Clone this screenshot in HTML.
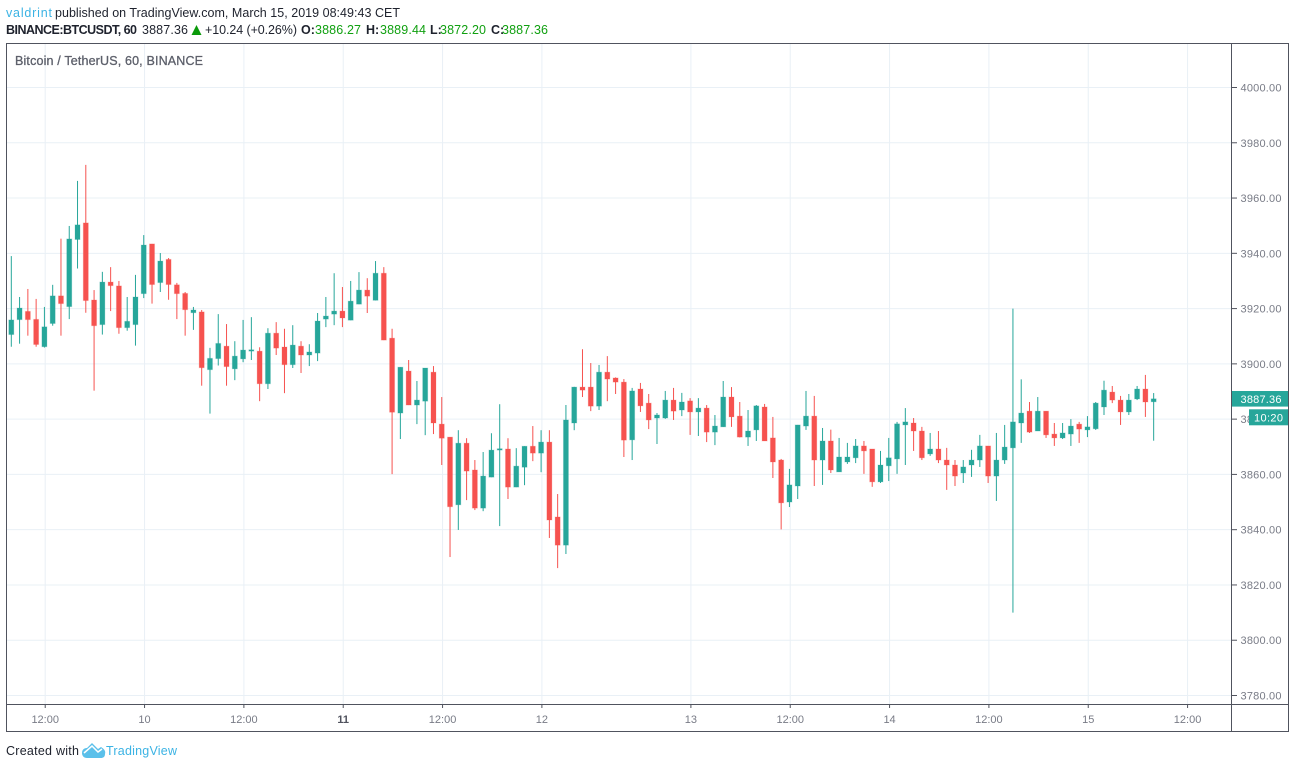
<!DOCTYPE html>
<html lang="en">
<head>
<meta charset="utf-8">
<title>BTCUSDT 60 chart</title>
<style>
html,body{margin:0;padding:0;background:#fff;width:1295px;height:768px;overflow:hidden}
svg{display:block}
text{font-family:"Liberation Sans",sans-serif}
</style>
</head>
<body>
<svg id="chart" xmlns="http://www.w3.org/2000/svg" width="1295" height="768" viewBox="0 0 1295 768">
  <g font-size="12.5" fill="#1e222d">
    <text x="6" y="17" fill="#3bb3e4" textLength="46" lengthAdjust="spacing">valdrint</text>
    <text x="55" y="17" textLength="345" lengthAdjust="spacing">published on TradingView.com, March 15, 2019 08:49:43 CET</text>
    <text x="6" y="34" font-weight="bold" textLength="131" lengthAdjust="spacing">BINANCE:BTCUSDT, 60</text>
    <text x="142" y="34" textLength="46" lengthAdjust="spacing">3887.36</text>
    <polygon points="191.5,35 201.5,35 196.5,25" fill="#0a9a0a"/>
    <text x="205" y="34" textLength="92" lengthAdjust="spacing">+10.24 (+0.26%)</text>
    <text x="301" y="34" font-weight="bold">O:</text>
    <text x="315" y="34" fill="#10a010" textLength="46" lengthAdjust="spacing">3886.27</text>
    <text x="366" y="34" font-weight="bold">H:</text>
    <text x="380" y="34" fill="#10a010" textLength="46" lengthAdjust="spacing">3889.44</text>
    <text x="430" y="34" font-weight="bold">L:</text>
    <text x="440" y="34" fill="#10a010" textLength="46" lengthAdjust="spacing">3872.20</text>
    <text x="491" y="34" font-weight="bold">C:</text>
    <text x="502" y="34" fill="#10a010" textLength="46" lengthAdjust="spacing">3887.36</text>
  </g>

  <g id="grid"></g>
  <g id="candles"></g>
  <g id="axes"></g>

  <g fill="none" stroke="#50535e" stroke-width="1">
    <rect x="6.5" y="43.5" width="1282" height="688"/>
    <line x1="1231.5" y1="43.5" x2="1231.5" y2="731.5"/>
    <line x1="6.5" y1="704.5" x2="1288.5" y2="704.5"/>
  </g>

  <text x="15" y="65" font-size="12.5" fill="#5d606b" stroke="#5d606b" stroke-width="0.3" textLength="188" lengthAdjust="spacing">Bitcoin / TetherUS, 60, BINANCE</text>

  <g>
    <text x="6" y="755" font-size="12.5" fill="#1e222d" textLength="73" lengthAdjust="spacing">Created with</text>
    <path d="M82 753 C82 749 85 748 87 748 L92 743 L98 749 L101 747 C104 749 106 751 105 754 C105 757 103 758 101 758 L87 758 C84 758 82 756 82 753 Z" fill="#5bc0ea"/>
    <path d="M84 753 L92 746 L98 752 L102 749" fill="none" stroke="#fff" stroke-width="1.5"/>
    <text x="106" y="755" font-size="12.5" fill="#3bb3e4" textLength="71" lengthAdjust="spacing">TradingView</text>
  </g>
</svg>

<script>
const opens = [3910.6,3916,3919,3916.1,3906.2,3914.6,3924.6,3920.7,3945,3951,3923.1,3914.2,3929.6,3928.2,3913.1,3914.2,3925.4,3943.4,3929.4,3937.8,
3928.6,3925.5,3918.5,3918.8,3897.9,3901.9,3906.4,3898.2,3901.8,3904.6,3904.6,3892.8,3911.1,3906.1,3899.7,3906.4,3903.2,3903.9,3916.2,3918,
3919.1,3915.8,3921.6,3926.7,3923,3932.8,3909.3,3882.2,3897.4,3885.1,3886.5,3897,3878.2,3873.5,3849,3871.3,3861.6,3847.8,3859,3868.8,
3869.2,3855.4,3862.6,3870.2,3867.7,3871.7,3844.6,3834.4,3878.6,3891.6,3891.6,3884.7,3897,3894.9,3893.4,3872.5,3890.9,3885.8,3880.4,3880.4,
3886.9,3883.3,3886.6,3882.6,3884,3875.3,3877.2,3888,3881.1,3873.5,3876.1,3884.4,3873.2,3865.2,3850,3855.8,3877.5,3881.1,3865.2,3872.1,
3860.9,3864.5,3866,3870.3,3869.2,3857.3,3863.1,3865.6,3877.9,3878.6,3875.7,3867.4,3869.2,3865.2,3863.4,3860.5,3863.4,3865.2,3870.3,3859.4,
3865.2,3869.6,3878.6,3882.9,3875.7,3882.9,3874.6,3873.2,3874.6,3878.2,3876.1,3876.5,3884.4,3889.8,3886.9,3882.6,3887.3,3890.9,3886.27];
const highs = [3939,3924.2,3927.1,3923.5,3920.6,3928.6,3945.3,3949.9,3966.2,3972,3926.7,3933.3,3935,3930,3924.2,3932.2,3946.6,3943.4,3940.1,3938.3,
3929.3,3926,3920.6,3919.5,3905.8,3918,3914.4,3908.2,3915.9,3916.9,3906,3912.9,3915.1,3912.7,3914,3908.2,3907.1,3918.4,3924.2,3932.8,
3927.8,3930,3933.2,3931,3937.2,3935,3912.7,3898.8,3901.4,3893.8,3898.5,3899.2,3888,3873.5,3876,3873.1,3865.2,3868.1,3874.9,3885.4,
3873.1,3869.5,3870.2,3877.5,3876,3876,3852.9,3885.1,3891.7,3905.3,3900.3,3899.6,3902.8,3895.1,3894.5,3891.3,3893.1,3889.1,3882.2,3890.2,
3891.3,3889.5,3887.6,3887.6,3885.1,3881.5,3893.8,3891.6,3886.2,3883.3,3885.1,3885.5,3880.8,3865.6,3862,3877.9,3890.2,3888.4,3876.8,3876.2,
3873.2,3871.4,3872.8,3872.1,3869.2,3868.5,3873.2,3879,3884,3880.4,3877.2,3875,3875.7,3869.6,3865.2,3865.2,3868.9,3874.3,3870.3,3875,
3877.9,3920,3894.4,3886.2,3888,3882.9,3878.6,3878.6,3880,3879,3881.1,3886.2,3893.9,3892,3888.4,3889.1,3892,3896,3889.44];
const lows = [3906.2,3907.3,3910.2,3906.2,3905.9,3913.8,3910.2,3916.2,3934.5,3918.5,3890.3,3910.6,3919.1,3910.9,3912,3906.6,3923.8,3921.8,3926,3923.2,
3916.2,3910.2,3912.3,3892.1,3882,3899.4,3892.1,3894.1,3900.6,3901.4,3886.5,3890.9,3903.2,3889.4,3898.5,3896.7,3899.2,3901,3913.3,3914,
3913.3,3915.8,3921.6,3918.4,3923,3908.6,3860.1,3872.8,3885.1,3878.2,3874.2,3874.6,3863.4,3830.1,3839.9,3850.7,3847.1,3846.7,3859,3841.3,
3851.1,3855.4,3856.1,3864.8,3860.8,3837,3826.1,3831.2,3876,3888,3882.9,3883.3,3886.5,3889.1,3866.3,3865.2,3882.6,3876.4,3871,3880.1,
3879.7,3881.1,3874.3,3873.9,3871.7,3870.6,3877.2,3877.2,3873.4,3870.3,3872.1,3872.1,3858.7,3840.1,3848.2,3851.1,3876.1,3855.8,3856.2,3860.5,
3860.9,3863.8,3864.1,3860.2,3855.5,3856.9,3857.6,3860.2,3863.4,3868.5,3865.2,3866.7,3864.1,3854.4,3855.8,3856.9,3859.1,3862.7,3856.9,3850.4,
3863.8,3810,3871.4,3875,3875.7,3873.2,3870.3,3872.8,3870.3,3871.4,3873.5,3876.1,3881.5,3885.8,3877.9,3881.5,3886.9,3880.8,3872.2];
const closes = [3915.9,3920.2,3916,3907,3913.4,3924.6,3921.8,3945.2,3950.3,3922.9,3913.8,3929.6,3928.3,3913.1,3915.4,3924.2,3943,3928.7,3937.2,3928.7,
3925.4,3919.6,3919.5,3898.6,3902,3907.4,3899,3902.8,3905,3905.1,3892.8,3911.1,3905.7,3899.7,3906.8,3903.2,3904.3,3915.5,3917.3,3919.1,
3916.6,3922.7,3926.7,3924.5,3932.8,3908.6,3882.5,3898.8,3885.1,3886.9,3898.5,3878.6,3873.1,3848.3,3871.3,3861.2,3847.8,3859.4,3868.8,3869.3,
3855.4,3863,3870.2,3867.7,3871.7,3843.5,3834.4,3879.7,3891.6,3890.5,3884.7,3897,3894.5,3893.4,3872.4,3890.2,3884.8,3879.7,3881.5,3886.9,
3882.9,3886.2,3882.6,3884,3875.3,3877.5,3888,3880.8,3873.5,3875.7,3884.8,3872.1,3864.5,3849.7,3856.2,3877.9,3881.1,3865.2,3872.1,3861.6,
3866.3,3866.3,3870.3,3868.5,3857.3,3863.4,3866,3878.3,3879,3875.7,3866,3869.2,3865.2,3863.4,3859.4,3862.7,3865.2,3870.3,3859.4,3865.2,
3869.9,3879,3882.2,3875.3,3882.9,3874.3,3873.2,3875,3877.5,3876.4,3877.2,3885.8,3890.5,3886.9,3882.6,3886.9,3890.9,3886.2,3887.36];
const priceTicks = [3780,3800,3820,3840,3860,3880,3900,3920,3940,3960,3980,4000];
const timeTickBars = [4,16,28,40,52,64,82,94,106,118,130,142];
const timeTickLabels = ['12:00','10','12:00','11','12:00','12','13','12:00','14','12:00','15','12:00'];
const boldTimeLabel = '11';
const lastPrice = 3887.36;
const countdownLabel = '10:20';

const SVG_NS = 'http://www.w3.org/2000/svg';
const GREEN = '#26a69a';
const RED = '#f6524f';

function xScale(i) { return 11.3 + 8.278 * i; }
function yScale(p) { return 695.5 - (p - 3780) * (608 / 220); }

function add(parent, tag, attrs) {
  const el = document.createElementNS(SVG_NS, tag);
  for (const k in attrs) el.setAttribute(k, attrs[k]);
  parent.appendChild(el);
  return el;
}

const grid = document.getElementById('grid');
const candles = document.getElementById('candles');
const axes = document.getElementById('axes');

priceTicks.forEach(function (p) {
  const y = yScale(p);
  const line = add(grid, 'line', { x1: 7, x2: 1231, y1: y, y2: y, stroke: '#e9f0f6', 'stroke-width': 1 });
  
  
  const tick = add(axes, 'line', { x1: 1232, x2: 1237, y1: y, y2: y, stroke: '#50535e', 'stroke-width': 1 });
  
  
  const label = add(axes, 'text', { x: 1240.5, y: y + 4, 'font-size': 11, fill: '#787b86', textLength: 41, lengthAdjust: 'spacing' });
  
  
  label.textContent = p.toFixed(2);
});

timeTickBars.forEach(function (b, idx) {
  const x = xScale(b) + 0.8;
  const line = add(grid, 'line', { x1: x, x2: x, y1: 44, y2: 704, stroke: '#e9f0f6', 'stroke-width': 1 });
  
  
  const tick = add(axes, 'line', { x1: x, x2: x, y1: 705, y2: 708, stroke: '#50535e', 'stroke-width': 1 });
  
  
  const isBold = timeTickLabels[idx] === boldTimeLabel;
  const label = add(axes, 'text', { x: x, y: 723, 'font-size': 11, 'text-anchor': 'middle', fill: isBold ? '#50535e' : '#787b86', 'font-weight': isBold ? 'bold' : 'normal' });
  
  
  label.textContent = timeTickLabels[idx];
});

closes.forEach(function (c, i) {
  const o = opens[i];
  const color = c >= o ? GREEN : RED;
  const x = xScale(i);
  const wick = add(candles, 'line', { x1: x, x2: x, y1: yScale(highs[i]), y2: yScale(lows[i]), stroke: color, 'stroke-width': 1 });
  
  
  const top = yScale(Math.max(o, c));
  const h = Math.max(Math.abs(yScale(o) - yScale(c)), 1);
  const body = add(candles, 'rect', { x: x - 2.5, y: top, width: 5, height: h, fill: color, stroke: color, 'stroke-opacity': 0.22, 'stroke-width': 1 });
  
  
});

const lastY = yScale(lastPrice);
const priceBox = add(axes, 'rect', { x: 1232, y: lastY - 7.8, width: 56, height: 15.6, fill: GREEN });


const priceText = add(axes, 'text', { x: 1240.5, y: lastY + 4, 'font-size': 11, fill: '#fff', textLength: 41, lengthAdjust: 'spacing' });


priceText.textContent = lastPrice.toFixed(2);
const timerBox = add(axes, 'rect', { x: 1249, y: lastY + 10.5, width: 39, height: 16, fill: GREEN });


const timerText = add(axes, 'text', { x: 1254, y: lastY + 22.5, 'font-size': 11, fill: '#fff', textLength: 29, lengthAdjust: 'spacing' });


timerText.textContent = countdownLabel;
</script>
</body>
</html>
